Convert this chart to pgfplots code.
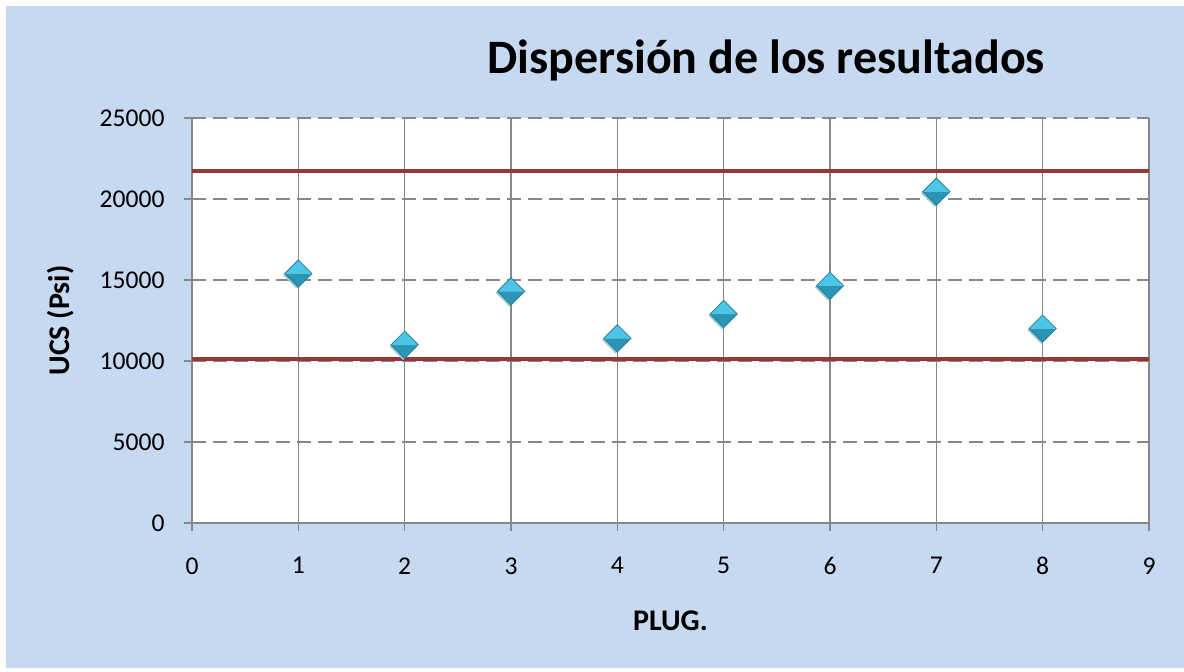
\documentclass[border=0pt]{standalone}
\usepackage{pgfplots}
\pgfplotsset{compat=1.18}
\usepackage{fontspec}
\setmainfont{Carlito}

\definecolor{panel}{HTML}{C6D9F1}
\definecolor{gridgray}{HTML}{878787}
\definecolor{limitred}{HTML}{963836}
\definecolor{gemtop}{HTML}{4CC6E8}
\definecolor{gembot}{HTML}{2A95B4}
\definecolor{gemedge}{HTML}{2B7E98}
\definecolor{gemshadow}{HTML}{9CC9D6}

% faceted diamond marker: light upper face, darker lower face, soft shadow
\pgfdeclareplotmark{gem}{%
  \pgfsetlinewidth{0.4pt}%
  \pgfsetfillcolor{gemshadow}%
  \pgfpathmoveto{\pgfqpoint{-7.6pt}{-0.8pt}}%
  \pgfpathlineto{\pgfqpoint{-0.8pt}{-7.6pt}}%
  \pgfpathlineto{\pgfqpoint{6pt}{-0.8pt}}%
  \pgfpathlineto{\pgfqpoint{-0.8pt}{6pt}}%
  \pgfpathclose
  \pgfusepath{fill}%
  \pgfsetfillcolor{gembot}%
  \pgfpathmoveto{\pgfqpoint{-6.8pt}{0pt}}%
  \pgfpathlineto{\pgfqpoint{0pt}{-6.8pt}}%
  \pgfpathlineto{\pgfqpoint{6.8pt}{0pt}}%
  \pgfpathclose
  \pgfusepath{fill}%
  \pgfsetfillcolor{gemtop}%
  \pgfpathmoveto{\pgfqpoint{-6.8pt}{0pt}}%
  \pgfpathlineto{\pgfqpoint{0pt}{6.8pt}}%
  \pgfpathlineto{\pgfqpoint{6.8pt}{0pt}}%
  \pgfpathclose
  \pgfusepath{fill}%
  \pgfsetstrokecolor{gemedge}%
  \pgfpathmoveto{\pgfqpoint{-6.8pt}{0pt}}%
  \pgfpathlineto{\pgfqpoint{0pt}{-6.8pt}}%
  \pgfpathlineto{\pgfqpoint{6.8pt}{0pt}}%
  \pgfpathlineto{\pgfqpoint{0pt}{6.8pt}}%
  \pgfpathclose
  \pgfusepath{stroke}%
}

\begin{document}
\begin{tikzpicture}
\path[use as bounding box] (-96pt,-74pt) rectangle (496pt,261.5pt);
\fill[white] (-96pt,-74pt) rectangle (496pt,261.5pt);
\fill[panel] (-93pt,-72.5pt) rectangle (496pt,258.5pt);
\begin{axis}[
  at={(0,0)}, anchor=south west,
  scale only axis, width=478.5pt, height=202.5pt,
  xmin=0, xmax=9, ymin=0, ymax=25000,
  xtick={0,1,...,9}, ytick={0,5000,...,25000},
  axis x line=bottom, axis y line=left,
  axis line style={gridgray, line width=0.7pt, -},
  tick align=outside, major tick length=4pt,
  tick style={gridgray, line width=0.7pt},
  xmajorgrids, ymajorgrids,
  x grid style={gridgray, line width=0.7pt},
  y grid style={gridgray, line width=0.7pt, dash pattern=on 7pt off 3.5pt},
  axis background/.style={fill=white},
  scaled y ticks=false,
  /pgf/number format/set thousands separator={},
  /pgf/number format/assume math mode=true,
  ticklabel style={font=\fontsize{12.8}{15}\selectfont},
  yticklabel style={anchor=east, inner sep=0pt, xshift=-9.5pt},
  xticklabel style={anchor=north, inner sep=0pt, yshift=-13pt},
  xlabel={PLUG.},
  xlabel style={font=\bfseries\fontsize{15}{18}\selectfont,
    at={(axis description cs:0.5,-0.242)}, anchor=center},
  ylabel={UCS (Psi)},
  ylabel style={font=\bfseries\fontsize{15}{18}\selectfont,
    at={(axis description cs:-0.1369,0.5)}, anchor=center},
  title={Dispersión de los resultados},
  title style={font=\bfseries\fontsize{24}{29}\selectfont,
    at={(axis description cs:0.6,1.0802)}, anchor=base},
  clip=false,
]
% limit lines
\addplot[limitred, line width=2pt] coordinates {(0,21700) (9,21700)};
\addplot[limitred, line width=2pt] coordinates {(0,10100) (9,10100)};
% UCS per plug
\addplot[only marks, mark=gem] coordinates {
  (1,15400) (2,11000) (3,14300) (4,11400)
  (5,12900) (6,14650) (7,20450) (8,12000)
};
\end{axis}
\end{tikzpicture}
\end{document}
